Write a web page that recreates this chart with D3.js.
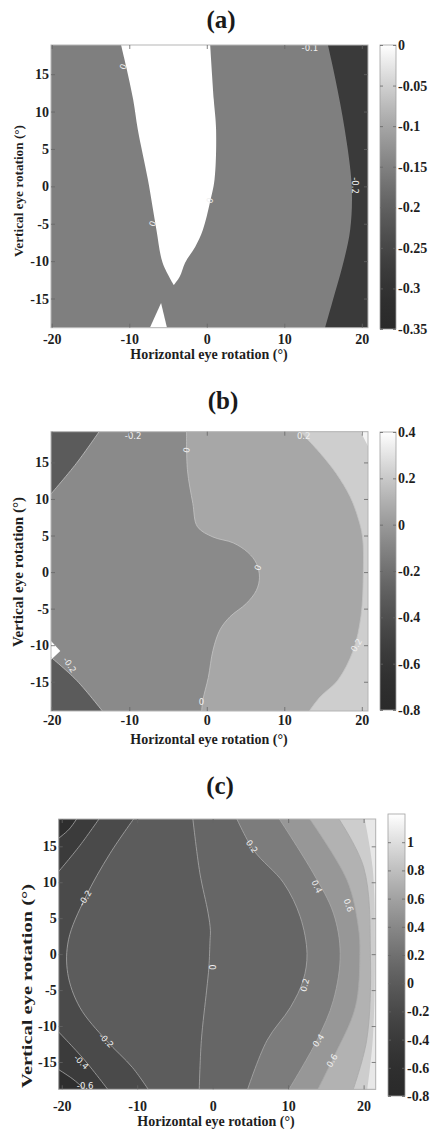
<!DOCTYPE html>
<html><head><meta charset="utf-8">
<script src="https://cdn.jsdelivr.net/npm/d3@7"></script>
<style>body{margin:0;background:#fff}svg{display:block}</style>
</head><body>
<svg id="fig" width="430" height="1131"></svg>
<script>
// ================= DATA =================
const panelTitles = ["(a)", "(b)", "(c)"];
const xAxisTitle = "Horizontal eye rotation (°)";
const yAxisTitle = "Vertical eye rotation (°)";
const xTicks = [-20, -10, 0, 10, 20];
const yTicks = [-15, -10, -5, 0, 5, 10, 15];

// axis limits (degrees)
const xLimA = [-20.1, 20.8], yLimA = [-18.9, 18.9];
const xLimB = [-20.1, 20.8], yLimB = [-19.0, 19.2];
const xLimC = [-20.4, 21.6], yLimC = [-18.8, 18.8];

// colour bar ranges and ticks
const cbRangeA = [-0.35, 0];
const cbTicksA = [0, -0.05, -0.1, -0.15, -0.2, -0.25, -0.3, -0.35];
const cbRangeB = [-0.8, 0.4];
const cbTicksB = [0.4, 0.2, 0, -0.2, -0.4, -0.6, -0.8];
const cbRangeC = [-0.8, 1.2];
const cbTicksC = [1, 0.8, 0.6, 0.4, 0.2, 0, -0.2, -0.4, -0.6, -0.8];

// ---- panel (a) contour lines [horizontal deg, vertical deg] ----
const aZeroLeft  = [[-11.2,19.5],[-10.4,16],[-9.5,11.6],[-8.9,7.6],[-7.6,0.9],[-6.5,-5.8],[-5.7,-10.2],[-4.25,-13.2]];
const aZeroRight = [[0.4,19.5],[0.9,11.6],[1.2,7.6],[1.0,0.9],[0.4,-2.2],[-0.5,-5.8],[-1.5,-8.1],[-2.8,-10.2],[-3.5,-12.1],[-4.25,-13.2]];
const aZeroBottom = [[-7.6,-19.5],[-5.9,-15.6],[-5.0,-19.5]];
const aMinus02   = [[15.5,19.5],[16.6,14.3],[17.8,7.6],[18.7,0],[18.5,-5.8],[17.5,-10.7],[16.3,-15.1],[15.1,-19.5]];
const aLabels = [[-10.8,16.0,"0",-70],[0.4,-1.9,"0",-70],[-7.0,-5.0,"0",-70],[19.1,0.1,"-0.2",90],[13.3,18.5,"-0.1",0]];

// ---- panel (b) ----
const bMinus02Top = [[-20.5,10.2],[-16.8,14.9],[-13.7,19.5]];
const bMinus02Bot = [[-20.5,-11.3],[-16.8,-14.8],[-13.1,-19.5]];
const bZero  = [[-2.6,19.5],[-2.5,14],[-1.8,9.4],[-1.2,6.2],[0.8,4.8],[3.4,4.0],[5.3,2.7],[6.4,1.2],[6.8,-0.7],[6.4,-2.5],[5.1,-4.3],[3.0,-6.1],[1.7,-7.9],[0.8,-10.7],[0.2,-14.4],[-0.5,-17.5],[-0.7,-19.5]];
const bPlus02 = [[11.8,19.5],[14.6,16.3],[16.7,13.5],[18.5,10.3],[19.5,7.5],[20.1,4.8],[20.2,0],[19.9,-6],[18.9,-10.7],[16.9,-14.8],[14.6,-17.1],[12.9,-19.5]];
const bNotch = [[-20.3,-9.2],[-18.9,-10.8],[-20.3,-12.2]];
const bCornerTR = [[19.7,19.5],[21,19.5],[21,16.8]];
const bLabels = [[-2.6,16.7,"0",-80],[6.6,0.6,"0",-70],[-0.7,-17.8,"0",0],[-17.7,-12.7,"-0.2",55],[-9.5,18.6,"-0.2",0],[19.3,-10,"0.2",-60],[12.5,18.6,"0.2",0]];

// ---- panel (c) ----
const cMinus06Top = [[-20.8,15.8],[-19.0,17.4],[-17.6,19.5]];
const cMinus06Bot = [[-20.8,-15.8],[-18.5,-17.4],[-16.2,-19.5]];
const cMinus04Top = [[-20.8,11.0],[-17.6,15.1],[-14.6,19.5]];
const cMinus04Bot = [[-20.8,-10.4],[-17.0,-14.7],[-13.4,-19.5]];
const cMinus02 = [[-10.0,19.5],[-13.6,14.0],[-16.9,7.8],[-19.1,2],[-19.2,-2.7],[-17.6,-7.4],[-14.1,-12],[-10.6,-15.8],[-8.1,-19.5]];
const cZero    = [[-2.7,19.5],[-1.7,11.3],[-0.6,5.7],[-0.3,3.3],[-0.35,1.9],[-0.5,-1.8],[-0.8,-5],[-1.5,-12],[-1.8,-19.5]];
const cPlus02  = [[2.9,19.5],[5.4,14.5],[9.4,9.9],[11.6,5.2],[12.5,0.1],[12.0,-3.6],[10.3,-7.4],[7.2,-12],[4.4,-19.5]];
const cPlus04  = [[8.4,19.5],[13.3,11.3],[16.0,5.7],[16.9,0.1],[16.0,-6.4],[13.8,-12],[9.7,-19.5]];
const cPlus06  = [[12.4,19.5],[17.8,10.3],[19.3,3.8],[19.5,0],[18.9,-7.4],[16.0,-14.4],[13.6,-19.5]];
const cPlus08  = [[16.3,19.5],[20.0,12.1],[20.9,0],[20.4,-12],[18.4,-19.5]];
const cPlus10  = [[20.0,19.5],[21.2,12],[21.5,0],[21.2,-12],[20.4,-19.5]];
const cLabels = [[-16.9,7.8,"-0.2",-60],[-0.1,-1.8,"0",90],[5.2,15.0,"0.2",55],[12.2,-4.3,"0.2",-75],[13.8,9.4,"0.4",65],[14.0,-12.0,"0.4",-55],[18.0,6.8,"0.6",70],[15.8,-14.8,"0.6",-60],[-14.1,-12.0,"-0.2",45],[-17.4,-15.0,"-0.4",45],[-16.9,-18.4,"-0.6",0]];

// ================= STYLE / LAYOUT =================
const serif = '"Liberation Serif","Times New Roman",serif';
const layout = [
  {plot:[51,45,368,327.7], cb:[380,45,396,329], title:[221,28], xlab:[209,359], ylab:[18,191], ylabSize:13.5, ylabLen:132, xPad:6},
  {plot:[51,431.7,368,711], cb:[380,432,396,710], title:[223,409], xlab:[209,744], ylab:[18,572], ylabSize:14.5, ylabLen:150, xPad:4},
  {plot:[58.7,819,375.7,1089.3], cb:[388,814,405,1096], title:[220,794], xlab:[216,1126], ylab:[27,986], ylabSize:14.5, ylabLen:204, xPad:12}
];

const panels = [
  { xLim:xLimA, yLim:yLimA, cbRange:cbRangeA, cbTicks:cbTicksA, base:"#7f7f7f", labels:aLabels,
    regions:[
      {parts:[aMinus02], corners:["br","tr"], fill:"#3a3a3a"},
      {parts:[aZeroLeft, aZeroRight.slice().reverse()], corners:[], fill:"#ffffff"},
      {parts:[aZeroBottom], corners:[], fill:"#ffffff", linear:true}
    ],
    lines:[], lineColor:"#cccccc" },
  { xLim:xLimB, yLim:yLimB, cbRange:cbRangeB, cbTicks:cbTicksB, base:"#8a8a8a", labels:bLabels,
    regions:[
      {parts:[bMinus02Top], corners:["tl"], fill:"#5b5b5b"},
      {parts:[bMinus02Bot], corners:["bl"], fill:"#5b5b5b"},
      {parts:[bZero], corners:["br","tr"], fill:"#a7a7a7"},
      {parts:[bPlus02], corners:["br","tr"], fill:"#cecece"},
      {parts:[bNotch], corners:[], fill:"#ffffff", linear:true},
      {parts:[bCornerTR], corners:[], fill:"#f4f4f4", linear:true}
    ],
    lines:[bMinus02Top,bMinus02Bot,bZero,bPlus02], lineColor:"#c4c4c4" },
  { xLim:xLimC, yLim:yLimC, cbRange:cbRangeC, cbTicks:cbTicksC, base:"#5c5c5c", labels:cLabels,
    regions:[
      {parts:[cMinus02], corners:["bl","tl"], fill:"#4a4a4a"},
      {parts:[cMinus04Top], corners:["tl"], fill:"#3b3b3b"},
      {parts:[cMinus04Bot], corners:["bl"], fill:"#3b3b3b"},
      {parts:[cMinus06Top], corners:["tl"], fill:"#2e2e2e"},
      {parts:[cMinus06Bot], corners:["bl"], fill:"#2e2e2e"},
      {parts:[cZero], corners:["br","tr"], fill:"#666666"},
      {parts:[cPlus02], corners:["br","tr"], fill:"#7c7c7c"},
      {parts:[cPlus04], corners:["br","tr"], fill:"#979797"},
      {parts:[cPlus06], corners:["br","tr"], fill:"#b2b2b2"},
      {parts:[cPlus08], corners:["br","tr"], fill:"#cdcdcd"},
      {parts:[cPlus10], corners:["br","tr"], fill:"#e8e8e8"}
    ],
    lines:[cMinus06Top,cMinus06Bot,cMinus04Top,cMinus04Bot,cMinus02,cZero,cPlus02,cPlus04,cPlus06,cPlus08], lineColor:"#a9a9a9" }
];

// colour map used for colour bars (dark grey -> white)
const grayMap = t => { const v = Math.round(42 + 213 * Math.pow(t, 1.6)); return d3.rgb(v, v, v).formatHex(); };

// ================= DRAW =================
const svg = d3.select("#fig");
const defs = svg.append("defs");

function cornerPt(key, xd, yd) {
  const m = 3;
  return [key[1] === "l" ? xd[0] - m : xd[1] + m, key[0] === "t" ? yd[1] + m : yd[0] - m];
}
function regionPath(r, sx, sy, xd, yd) {
  const gen = d3.line().x(d => sx(d[0])).y(d => sy(d[1]))
    .curve(r.linear ? d3.curveLinear : d3.curveCatmullRom.alpha(0.5));
  let d = "";
  r.parts.forEach((pts, k) => { let s = gen(pts); if (k > 0) s = "L" + s.slice(1); d += s; });
  r.corners.forEach(c => { const q = cornerPt(c, xd, yd); d += `L${sx(q[0])},${sy(q[1])}`; });
  return d + "Z";
}

panels.forEach((p, i) => {
  const L = layout[i];
  const [px0, py0, px1, py1] = L.plot;
  const sx = d3.scaleLinear().domain(p.xLim).range([px0, px1]);
  const sy = d3.scaleLinear().domain(p.yLim).range([py1, py0]);
  const g = svg.append("g");

  const clipId = "clip" + i;
  defs.append("clipPath").attr("id", clipId).append("rect")
    .attr("x", px0).attr("y", py0).attr("width", px1 - px0).attr("height", py1 - py0);
  const body = g.append("g").attr("clip-path", `url(#${clipId})`);
  body.append("rect").attr("x", px0).attr("y", py0).attr("width", px1 - px0).attr("height", py1 - py0).attr("fill", p.base);

  p.regions.forEach(r => {
    body.append("path").attr("d", regionPath(r, sx, sy, p.xLim, p.yLim)).attr("fill", r.fill);
  });
  const lineGen = d3.line().x(d => sx(d[0])).y(d => sy(d[1])).curve(d3.curveCatmullRom.alpha(0.5));
  p.lines.forEach(ln => {
    body.append("path").attr("d", lineGen(ln)).attr("fill", "none")
      .attr("stroke", p.lineColor).attr("stroke-width", 0.8);
  });
  p.labels.forEach(lb => {
    body.append("text")
      .attr("transform", `translate(${sx(lb[0])},${sy(lb[1])}) rotate(${lb[3]})`)
      .attr("text-anchor", "middle").attr("dy", "0.35em")
      .attr("font-family", '"DejaVu Sans",sans-serif').attr("font-size", 8.5)
      .attr("fill", "#f0f0f0").text(lb[2]);
  });

  // frame
  g.append("rect").attr("x", px0).attr("y", py0).attr("width", px1 - px0).attr("height", py1 - py0)
    .attr("fill", "none").attr("stroke", "#b5b5b5").attr("stroke-width", 1);

  const styleAxis = (sel) => {
    sel.select(".domain").remove();
    sel.selectAll(".tick line").attr("stroke", "#666").attr("stroke-width", 0.8);
    sel.selectAll(".tick text").attr("font-family", serif).attr("font-weight", "bold")
      .attr("font-size", 14).attr("fill", "#1e1e1e");
  };
  g.append("g").attr("transform", `translate(0,${py1})`)
    .call(d3.axisBottom(sx).tickValues(xTicks).tickFormat(d => String(d)).tickSizeInner(-4).tickSizeOuter(0).tickPadding(L.xPad))
    .call(styleAxis);
  g.append("g").attr("transform", `translate(0,${py0})`)
    .call(d3.axisTop(sx).tickValues(xTicks).tickFormat("").tickSizeInner(-4).tickSizeOuter(0))
    .call(styleAxis);
  g.append("g").attr("transform", `translate(${px0},0)`)
    .call(d3.axisLeft(sy).tickValues(yTicks).tickFormat(d => String(d)).tickSizeInner(-4).tickSizeOuter(0).tickPadding(2))
    .call(styleAxis);
  g.append("g").attr("transform", `translate(${px1},0)`)
    .call(d3.axisRight(sy).tickValues(yTicks).tickFormat("").tickSizeInner(-4).tickSizeOuter(0))
    .call(styleAxis);

  // colour bar
  const [cx0, cy0, cx1, cy1] = L.cb;
  const gradId = "grad" + i;
  const grad = defs.append("linearGradient").attr("id", gradId)
    .attr("x1", 0).attr("y1", 1).attr("x2", 0).attr("y2", 0);
  d3.range(0, 1.0001, 0.05).forEach(t => grad.append("stop").attr("offset", t).attr("stop-color", grayMap(t)));
  g.append("rect").attr("x", cx0).attr("y", cy0).attr("width", cx1 - cx0).attr("height", cy1 - cy0)
    .attr("fill", `url(#${gradId})`).attr("stroke", "#a0a0a0").attr("stroke-width", 0.8);
  const cs = d3.scaleLinear().domain(p.cbRange).range([cy1, cy0]);
  g.append("g").attr("transform", `translate(${cx1},0)`)
    .call(d3.axisRight(cs).tickValues(p.cbTicks).tickFormat(d => String(d)).tickSizeInner(-3).tickSizeOuter(0).tickPadding(2))
    .call(styleAxis);
  g.append("g").attr("transform", `translate(${cx0},0)`)
    .call(d3.axisLeft(cs).tickValues(p.cbTicks).tickFormat("").tickSizeInner(-3).tickSizeOuter(0))
    .call(styleAxis);

  // titles
  g.append("text").attr("x", L.title[0]).attr("y", L.title[1]).attr("text-anchor", "middle")
    .attr("font-family", serif).attr("font-weight", "bold").attr("font-size", 25).attr("fill", "#1a1a1a")
    .text(panelTitles[i]);
  g.append("text").attr("x", L.xlab[0]).attr("y", L.xlab[1]).attr("text-anchor", "middle")
    .attr("font-family", serif).attr("font-weight", "bold").attr("font-size", 14).attr("fill", "#1e1e1e")
    .text(xAxisTitle);
  g.append("text").attr("transform", `translate(${L.ylab[0]},${L.ylab[1]}) rotate(-90)`)
    .attr("text-anchor", "middle").attr("dy", "0.35em")
    .attr("textLength", L.ylabLen).attr("lengthAdjust", "spacingAndGlyphs")
    .attr("font-family", serif).attr("font-weight", "bold").attr("font-size", L.ylabSize).attr("fill", "#1e1e1e")
    .text(yAxisTitle);
});
</script>
</body></html>
